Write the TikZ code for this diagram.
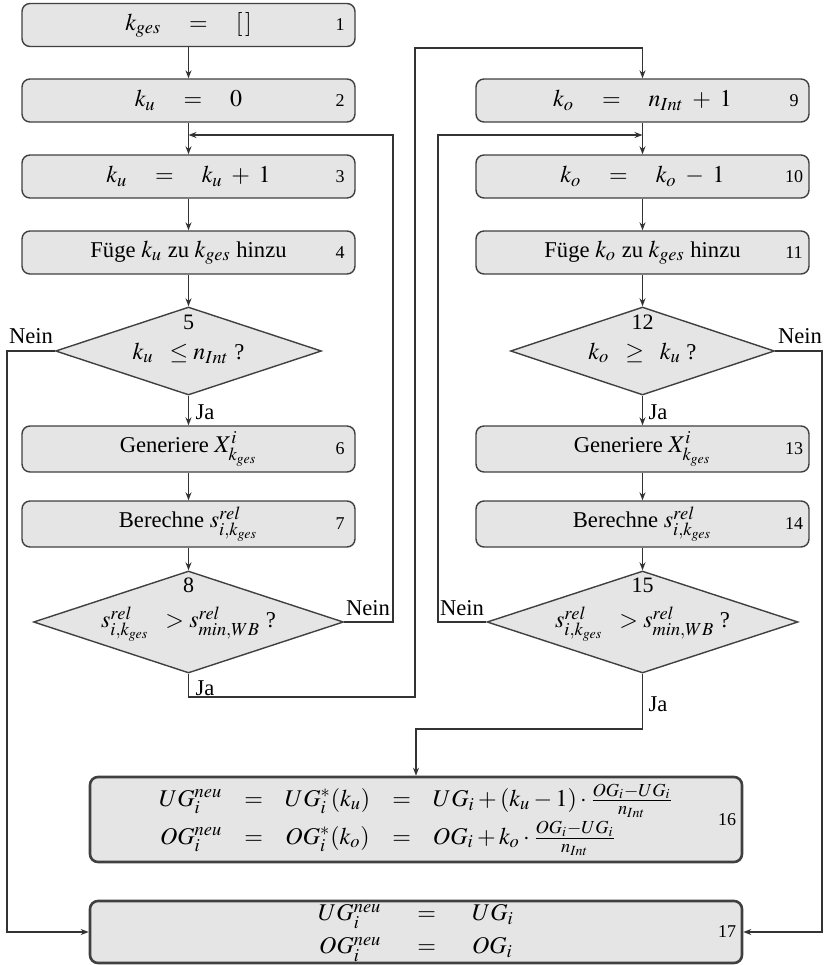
\documentclass[tikz,border=0pt]{standalone}
\usepackage{mathptmx}
\usepackage[no-math]{fontspec}
\setmainfont{Liberation Serif}
\DeclareMathSizes{11.3}{12}{9.2}{7}
\usetikzlibrary{shapes.geometric,arrows.meta}
\tikzset{
  pbox/.style={draw=black!75, fill=black!10, rounded corners=4pt, line width=0.7pt,
    minimum width=166.5pt, minimum height=21.5pt, inner sep=0pt,
    font=\fontsize{11.3}{13.5}\selectfont},
  tbox/.style={pbox, minimum height=23pt},
  bigbox/.style={pbox, line width=1.3pt, minimum width=326pt},
  dia/.style={diamond, draw=black!75, fill=black!10, line width=0.7pt, inner sep=0pt},
  txt/.style={inner sep=0pt, font=\fontsize{11.3}{13.5}\selectfont},
  num/.style={inner sep=0pt, font=\fontsize{9}{11}\selectfont},
  lab/.style={inner sep=0pt, font=\fontsize{11.3}{13.5}\selectfont},
  arr/.style={draw=black!80, line width=0.6pt, -{Stealth[length=4pt,width=3pt]}}
}
\begin{document}
\begin{tikzpicture}[x=0.5pt,y=-0.5pt]
\useasboundingbox (0,0) rectangle (825,965);
% left column
\node[pbox] (b1) at (188.5,25) {$k_{ges}\quad=\quad[\,]$};
\node[num] (n1) at (340,25) {1};
\node[pbox] (b2) at (188.5,100.5) {$k_u\quad=\quad0$};
\node[num] (n2) at (340,100.5) {2};
\node[pbox] (b3) at (188.5,176.5) {$k_u\quad=\quad k_u\;+\;1$};
\node[num] (n3) at (340,176.5) {3};
\node[pbox] (b4) at (188.5,252.5) {Füge $k_u$ zu $k_{ges}$ hinzu};
\node[num] (n4) at (340,252.5) {4};
\node[dia, minimum width=133pt, minimum height=44pt] (d5) at (188.5,351) {};
\node[num, font=\fontsize{11}{13}\selectfont] (n5) at (188.5,322) {5};
\node[txt] (t5) at (188.5,353) {$k_u\;\;\le n_{Int}$ ?};
\node[tbox] (b6) at (188.5,449) {Generiere $X^i_{k_{ges}}$};
\node[num] (n6) at (340,449) {6};
\node[tbox] (b7) at (188.5,524) {Berechne $s^{rel}_{i,k_{ges}}$};
\node[num] (n7) at (340,524) {7};
\node[dia, minimum width=155pt, minimum height=51pt] (d8) at (188.5,622) {};
\node[num, font=\fontsize{11}{13}\selectfont] (n8) at (188.5,585) {8};
\node[txt] (t8) at (188.5,624) {$s^{rel}_{i,k_{ges}}\;\;>s^{rel}_{min,WB}$ ?};
% right column
\node[pbox] (b9) at (642.5,100.5) {$k_o\quad=\quad n_{Int}\;+\;1$};
\node[num] (n9) at (794,100.5) {9};
\node[pbox] (b10) at (642.5,176.5) {$k_o\quad=\quad k_o\;-\;1$};
\node[num] (n10) at (794,176.5) {10};
\node[pbox] (b11) at (642.5,252.5) {Füge $k_o$ zu $k_{ges}$ hinzu};
\node[num] (n11) at (794,252.5) {11};
\node[dia, minimum width=132pt, minimum height=44pt] (d12) at (642.5,351) {};
\node[num, font=\fontsize{11}{13}\selectfont] (n12) at (642.5,322) {12};
\node[txt] (t12) at (642.5,353) {$k_o\;\;\ge\;\;k_u$ ?};
\node[tbox] (b13) at (642.5,449) {Generiere $X^i_{k_{ges}}$};
\node[num] (n13) at (794,449) {13};
\node[tbox] (b14) at (642.5,524) {Berechne $s^{rel}_{i,k_{ges}}$};
\node[num] (n14) at (794,524) {14};
\node[dia, minimum width=155.5pt, minimum height=51pt] (d15) at (642.5,622) {};
\node[num, font=\fontsize{11}{13}\selectfont] (n15) at (642.5,585) {15};
\node[txt] (t15) at (642.5,624) {$s^{rel}_{i,k_{ges}}\;\;>s^{rel}_{min,WB}$ ?};
% bottom boxes
\node[bigbox, minimum height=42.5pt] (b16) at (416,819.5) {$\arraycolsep=5.5pt\begin{array}{rcccl}
UG_i^{neu} & = & UG_i^*(k_u) & = & UG_i + (k_u - 1)\cdot\frac{OG_i-UG_i}{n_{Int}}\\[3.5pt]
OG_i^{neu} & = & OG_i^*(k_o) & = & OG_i + k_o\cdot\frac{OG_i-UG_i}{n_{Int}}
\end{array}$};
\node[num] (n16) at (727,820) {16};
\node[bigbox, minimum height=31pt] (b17) at (416,932) {$\arraycolsep=9pt\begin{array}{rcl}
UG_i^{neu} & = & UG_i\\[3pt]
OG_i^{neu} & = & OG_i
\end{array}$};
\node[num] (n17) at (727,932) {17};
% labels
\node[lab] (l5n) at (31,336) {Nein};
\node[lab] (l5j) at (205,412) {Ja};
\node[lab] (l8n) at (368,608) {Nein};
\node[lab] (l8j) at (205,688) {Ja};
\node[lab] (l12n) at (800,336) {Nein};
\node[lab] (l12j) at (658,412) {Ja};
\node[lab] (l15n) at (462,608) {Nein};
\node[lab] (l15j) at (658,704) {Ja};
% coordinates
\coordinate (c23) at (188.5,135);
\coordinate (c8r) at (393,622);
\coordinate (c5l) at (7,932);
\coordinate (c8a) at (415,697);
\coordinate (c8b) at (415,48);
\coordinate (c910) at (642.5,135);
\coordinate (c15a) at (438,135);
\coordinate (c12a) at (822,932);
\coordinate (c15b) at (416,729);
% connectors
\draw[arr] (b1) -- (b2);
\draw[arr] (b2) -- (b3);
\draw[arr] (b3) -- (b4);
\draw[arr] (b4) -- (d5);
\draw[arr] (d5) -- (b6);
\draw[arr] (b6) -- (b7);
\draw[arr] (b7) -- (d8);
\draw[arr] (d8.east) -- (c8r) |- (c23);
\draw[arr] (d5.west) -| (c5l) -- (b17.west);
\draw[arr] (d8.south) |- (c8a) -- (c8b) -| (b9.north);
\draw[arr] (b9) -- (b10);
\draw[arr] (b10) -- (b11);
\draw[arr] (b11) -- (d12);
\draw[arr] (d12) -- (b13);
\draw[arr] (b13) -- (b14);
\draw[arr] (b14) -- (d15);
\draw[arr] (d15.west) -| (c15a) -- (c910);
\draw[arr] (d12.east) -| (c12a) -- (b17.east);
\draw[arr] (d15.south) |- (c15b) -- (b16.north);
\end{tikzpicture}
\end{document}
